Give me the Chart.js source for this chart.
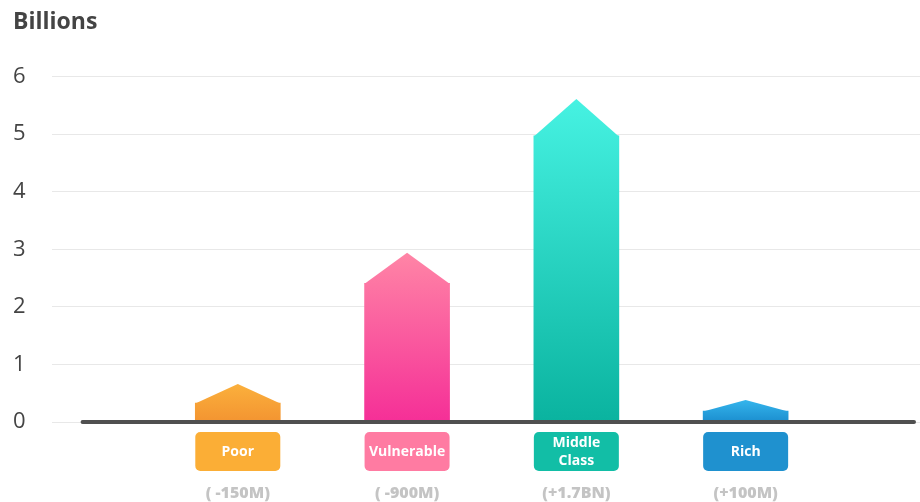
<!DOCTYPE html>
<html>
<head>
<meta charset="utf-8">
<script src="https://cdn.jsdelivr.net/npm/chart.js@4"></script>
<style>
  html, body { margin: 0; padding: 0; background: #fff; }
  #wrap { position: relative; width: 920px; height: 502px; }
</style>
</head>
<body>
<div id="wrap"><canvas id="chart"></canvas></div>
<script>
// data
const categories = [["Poor"], ["Vulnerable"], ["Middle", "Class"], ["Rich"]];
const bodyValues = [0.33, 2.41, 4.97, 0.19];   // top of the rectangle part
const tipValues = [0.66, 2.94, 5.61, 0.38];    // apex of the arrow
const changeLabels = ["( -150M)", "( -900M)", "(+1.7BN)", "(+100M)"];
const yTicks = [0, 1, 2, 3, 4, 5, 6];

// colours
const gradTop = ["#fbb03c", "#ff85a6", "#46f2e2", "#35b5ec"];
const gradBottom = ["#f39431", "#f52f97", "#0ab39f", "#1b8ecf"];
const boxColors = ["#fbae36", "#ff7ba2", "#12bea6", "#1f91cf"];

const FONT = "'Open Sans', 'Noto Sans', sans-serif";

function barGradient(chart, i) {
  const y = chart.scales.y;
  if (!chart.chartArea || !y) return gradBottom[i];
  const y1 = y.getPixelForValue(tipValues[i]);
  const y2 = y.getPixelForValue(0);
  if (!isFinite(y1) || !isFinite(y2)) return gradBottom[i];
  const g = chart.ctx.createLinearGradient(0, y1, 0, y2);
  g.addColorStop(0, gradTop[i]);
  g.addColorStop(1, gradBottom[i]);
  return g;
}

// arrow tips, zero line, category boxes
const arrowPlugin = {
  id: "arrows",
  afterDatasetsDraw(chart) {
    const ctx = chart.ctx;
    const y = chart.scales.y;
    const meta = chart.getDatasetMeta(0);
    const area = chart.chartArea;
    ctx.save();
    meta.data.forEach((bar, i) => {
      const half = bar.width / 2;
      const top = y.getPixelForValue(bodyValues[i]);
      const apex = y.getPixelForValue(tipValues[i]);
      ctx.beginPath();
      ctx.moveTo(bar.x - half, top + 0.5);
      ctx.lineTo(bar.x, apex);
      ctx.lineTo(bar.x + half, top + 0.5);
      ctx.closePath();
      ctx.fillStyle = barGradient(chart, i);
      ctx.fill();
    });

    // zero line
    const y0 = y.getPixelForValue(0);
    ctx.beginPath();
    ctx.moveTo(area.left + 31, y0);
    ctx.lineTo(area.right - 6, y0);
    ctx.lineWidth = 4;
    ctx.lineCap = "round";
    ctx.strokeStyle = "#505050";
    ctx.stroke();

    // boxes + labels
    meta.data.forEach((bar, i) => {
      const half = bar.width / 2;
      const bx = bar.x - half, by = y0 + 10, bw = bar.width, bh = 39;
      ctx.beginPath();
      ctx.roundRect(bx, by, bw, bh, 5);
      ctx.fillStyle = boxColors[i];
      ctx.fill();

      ctx.fillStyle = "#ffffff";
      ctx.font = "bold 14px " + FONT;
      ctx.textAlign = "center";
      ctx.textBaseline = "middle";
      const lines = categories[i];
      const lh = 18;
      const start = by + bh / 2 + 1 - (lines.length - 1) * lh / 2;
      lines.forEach((t, k) => ctx.fillText(t, bar.x, start + k * lh));

      ctx.fillStyle = "#c4c4c4";
      ctx.font = "800 16px " + FONT;
      ctx.fillText(changeLabels[i], bar.x, y0 + 71);
    });
    ctx.restore();
  }
};

new Chart(document.getElementById("chart"), {
  type: "bar",
  data: {
    datasets: [{
      data: bodyValues.map((v, i) => ({ x: i + 1, y: v })),
      backgroundColor: (c) => barGradient(c.chart, c.dataIndex),
      borderWidth: 0,
      barThickness: 85
    }]
  },
  options: {
    responsive: true,
    maintainAspectRatio: false,
    animation: false,
    layout: { padding: { left: 13, right: 0, top: 0, bottom: 80 } },
    plugins: {
      legend: { display: false },
      tooltip: { enabled: false },
      title: {
        display: true,
        text: "Billions",
        align: "start",
        color: "#444444",
        font: { family: FONT, size: 23, weight: "bold" },
        padding: { top: 9, bottom: 40 }
      }
    },
    scales: {
      x: {
        type: "linear",
        display: false,
        offset: false,
        min: -0.1,
        max: 5.03
      },
      y: {
        min: 0,
        max: 6,
        afterBuildTicks: (s) => { s.ticks = yTicks.map(v => ({ value: v })); },
        border: { display: false },
        grid: { color: "#e8e8e8", lineWidth: 1, drawTicks: false },
        ticks: {
          color: "#444444",
          font: { family: FONT, size: 22 },
          crossAlign: "far",
          padding: 13
        }
      }
    }
  },
  plugins: [arrowPlugin]
});
</script>
</body>
</html>
